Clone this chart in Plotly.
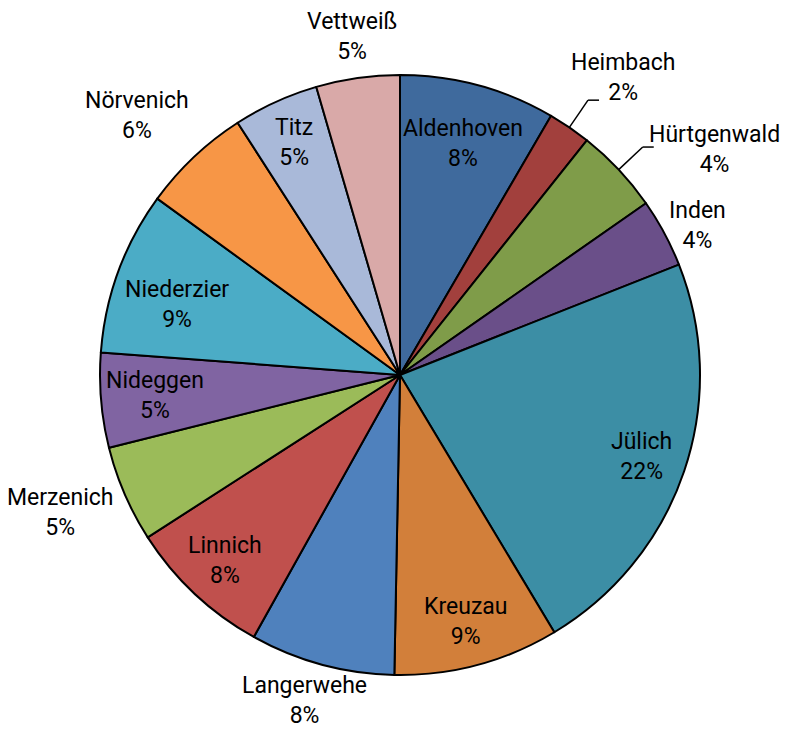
import numpy as np
import plotly.graph_objects as go

# -----------------------------
# Data
# -----------------------------
gemeinden = [
    "Aldenhoven", "Heimbach", "Hürtgenwald", "Inden", "Jülich", "Kreuzau",
    "Langerwehe", "Linnich", "Merzenich", "Nideggen", "Niederzier",
    "Nörvenich", "Titz", "Vettweiß",
]
anteile = [8.4, 2.3, 4.6, 3.7, 22.4, 8.9, 7.8, 7.8, 5.2, 5.1, 8.8, 5.9, 4.6, 4.5]
prozent_labels = ["8%", "2%", "4%", "4%", "22%", "9%", "8%", "8%", "5%", "5%",
                  "9%", "6%", "5%", "5%"]

# -----------------------------
# Style
# -----------------------------
colors = [
    "#3F6A9D", "#A2403D", "#7F9C49", "#6A4F89", "#3C8EA5", "#D27F3A",
    "#4F81BD", "#C0504D", "#9BBB59", "#8064A2", "#4BACC6", "#F79646",
    "#A9B9D9", "#D9A9A8",
]
# radial position of the label (in pie radii) and small angle nudges
label_r = [0.80, 1.24, 1.29, 1.11, 0.85, 0.85, 1.13, 0.85, 1.22, 0.82, 0.78, 1.23, 0.85, 1.14]
label_dtheta = [0, 2.5, 7.5, 1.5, 0, 0, 1.2, 0, 1.4, 0, -2.6, -2.0, 0, 0]
leader = [False, True, True, False, False, False, False, False, False, False, False, False, False, False]

W, H = 792, 733
PAGE_OFF = 8  # default body margin of the html page
CX, CY, R = 400 - PAGE_OFF, 375 - PAGE_OFF, 300  # pixel centre / radius of the pie
FONT = "Roboto, sans-serif"


def to_paper(px, py):
    return px / W, 1 - py / H


fig = go.Figure()

fig.add_trace(
    go.Pie(
        labels=gemeinden,
        values=anteile,
        sort=False,
        direction="clockwise",
        rotation=0,
        textinfo="none",
        hoverinfo="label+percent",
        marker=dict(colors=colors, line=dict(color="black", width=2)),
        domain=dict(
            x=[(CX - R) / W, (CX + R) / W],
            y=[1 - (CY + R) / H, 1 - (CY - R) / H],
        ),
        showlegend=False,
    )
)

# -----------------------------
# Labels + leader lines
# -----------------------------
vals = np.array(anteile)
cum = np.cumsum(vals) - vals / 2
mid_deg = cum / vals.sum() * 360

for i, name in enumerate(gemeinden):
    th = np.radians(mid_deg[i] + label_dtheta[i])
    px = CX + label_r[i] * R * np.sin(th)
    py = CY - label_r[i] * R * np.cos(th)
    x, y = to_paper(px, py)
    fig.add_annotation(
        x=x, y=y, xref="paper", yref="paper",
        text=f"{name}<br>{prozent_labels[i]}",
        showarrow=False,
        font=dict(family=FONT, size=23, color="black"),
        xanchor="center", yanchor="middle",
    )

    if leader[i]:
        t0 = np.radians(mid_deg[i])
        x0, y0 = CX + R * np.sin(t0), CY - R * np.cos(t0)
        r1 = 1.11 * R
        x1, y1 = CX + r1 * np.sin(t0), CY - r1 * np.cos(t0)
        x2 = x1 + 11
        for (a, b), (c, d) in [((x0, y0), (x1, y1)), ((x1, y1), (x2, y1))]:
            pa, pb = to_paper(a, b)
            pc, pd = to_paper(c, d)
            fig.add_shape(type="line", xref="paper", yref="paper",
                          x0=pa, y0=pb, x1=pc, y1=pd,
                          line=dict(color="black", width=1.5))

fig.update_layout(
    width=W,
    height=H,
    margin=dict(l=0, r=0, t=0, b=0),
    paper_bgcolor="white",
    plot_bgcolor="white",
)

fig.write_html("out.html")
